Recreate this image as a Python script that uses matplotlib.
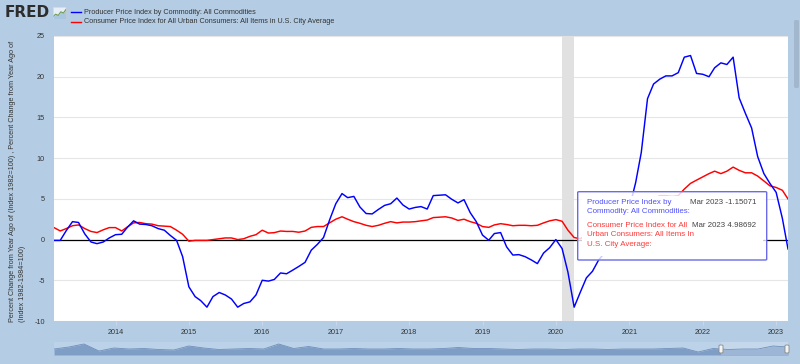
import matplotlib
matplotlib.use("Agg")
import matplotlib.pyplot as plt
import matplotlib.patches as mpatches
from matplotlib.lines import Line2D
import pandas as pd
import numpy as np

# ---------------- data ----------------
start_month = "2013-03-01"
end_month = "2023-03-01"

ppi_values = [
    -0.1, -0.1, 1.1, 2.2, 2.1, 0.7, -0.3, -0.5, -0.3, 0.2,
    0.6, 0.65, 1.5, 2.3, 1.9, 1.85, 1.7, 1.35, 1.15, 0.5, -0.1, -2.1,
    -5.8, -7.0, -7.5, -8.3, -7.0, -6.5, -6.8, -7.3, -8.3, -7.85, -7.65, -6.8,
    -5.0, -5.1, -4.9, -4.1, -4.2, -3.75, -3.3, -2.8, -1.3, -0.6, 0.25, 2.4,
    4.4, 5.65, 5.15, 5.3, 4.0, 3.2, 3.15, 3.7, 4.2, 4.4, 5.1, 4.25,
    3.75, 3.95, 4.05, 3.75, 5.4, 5.45, 5.5, 4.95, 4.5, 4.9, 3.3, 2.2,
    0.55, -0.08, 0.74, 0.86, -0.9, -1.9, -1.85, -2.1, -2.5, -2.95, -1.65, -1.0,
    0.0, -1.1, -4.0, -8.3, -6.5, -4.7, -3.9, -2.5, -1.6, -0.7, 0.3, 1.7,
    3.9, 7.0, 10.7, 17.3, 19.1, 19.7, 20.1, 20.1, 20.5, 22.4, 22.6, 20.4,
    20.3, 20.0, 21.1, 21.7, 21.5, 22.4, 17.4, 15.5, 13.7, 10.2, 8.1, 6.9,
    5.8, 2.6, -1.15071,
]

cpi_values = [
    1.47, 1.06, 1.35, 1.7, 1.8, 1.35, 1.0, 0.86, 1.2, 1.47,
    1.47, 1.06, 1.55, 2.05, 2.1, 1.95, 1.9, 1.7, 1.65, 1.6, 1.15, 0.65,
    -0.2, -0.1, -0.1, -0.1, 0.0, 0.1, 0.2, 0.2, 0.0, 0.1, 0.4, 0.6,
    1.15, 0.8, 0.85, 1.05, 1.0, 1.0, 0.9, 1.05, 1.5, 1.6, 1.6, 2.05,
    2.5, 2.8, 2.5, 2.2, 2.0, 1.75, 1.6, 1.75, 2.0, 2.2, 2.05, 2.15,
    2.15, 2.2, 2.3, 2.4, 2.7, 2.75, 2.8, 2.65, 2.35, 2.5, 2.2, 2.0,
    1.6, 1.5, 1.8, 1.95, 1.85, 1.7, 1.75, 1.75, 1.7, 1.75, 2.05, 2.3,
    2.45, 2.25, 1.15, 0.25, 0.1, 0.6, 1.0, 1.3, 1.4, 1.2, 1.2, 1.4,
    1.4, 1.7, 2.6, 4.2, 5.0, 5.4, 5.4, 5.3, 5.4, 6.2, 6.9, 7.3,
    7.7, 8.1, 8.4, 8.1, 8.4, 8.9, 8.5, 8.2, 8.2, 7.8, 7.2, 6.6,
    6.4, 6.05, 4.98692,
]

series_names = [
    "Producer Price Index by Commodity: All Commodities",
    "Consumer Price Index for All Urban Consumers: All Items in U.S. City Average",
]
year_ticks = list(range(2014, 2024))
y_ticks = [-10, -5, 0, 5, 10, 15, 20, 25]
recession = ("2020-02-01", "2020-04-01")
y_label_lines = [
    "Percent Change from Year Ago of (Index 1982=100) , Percent Change from Year Ago of",
    "(Index 1982-1984=100)",
]
tooltip_ppi_label = "Producer Price Index by\nCommodity: All Commodities:"
tooltip_cpi_label = "Consumer Price Index for All\nUrban Consumers: All Items In\nU.S. City Average:"
tooltip_ppi_value = "Mar 2023 -1.15071"
tooltip_cpi_value = "Mar 2023 4.98692"

# navigator (long-history overview strip) heights, read roughly
nav_values = [6, 8, 11, 4, 7, 6, 6.5, 5.5, 5, 9, 7, 5.5, 6, 6.5, 6, 11, 6.5, 8.5, 6, 6,
              6.5, 6, 6, 6.5, 6, 6, 6.5, 7.5, 6.5, 6.5, 6, 5.5, 6, 6, 5.5, 6, 6, 5.5, 6, 6,
              6, 6.5, 7, 3, 6.5, 5.5, 6, 6, 9, 8]
icon_values = [1, 2, 1.5, 3, 2.5, 4]

# ---------------- figure ----------------
W, H = 800, 364
BG = "#b4cde4"
fig = plt.figure(figsize=(W / 100, H / 100), dpi=100, facecolor=BG)
plt.rcParams["font.family"] = ["Liberation Sans", "DejaVu Sans"]

def fx(px):
    return px / W

def fy(py):
    return 1 - py / H

FS = 5.2
TXT = "#333333"

dates = pd.date_range(start_month, end_month, freq="MS")

ax = fig.add_axes([fx(54), fy(321), fx(788) - fx(54), fy(36) - fy(321)])
ax.set_facecolor("white")
for s in ax.spines.values():
    s.set_visible(False)
ax.set_axisbelow(True)
ax.grid(axis="y", color="#e6e6e6", lw=0.8)
ax.axvspan(pd.Timestamp(recession[0]), pd.Timestamp(recession[1]), color="#e1e1e1", lw=0, zorder=1)
ax.axhline(0, color="black", lw=0.9, zorder=1.5)
ax.plot(dates, ppi_values, color="#0000ff", lw=1.05, zorder=3)
ax.plot(dates, cpi_values, color="#ff0000", lw=1.05, zorder=2.5)
ax.set_xlim(dates[0], dates[-1])
ax.set_ylim(-10, 25)
ax.set_yticks(y_ticks)
ax.set_yticklabels([str(v) for v in y_ticks])
ax.set_xticks([pd.Timestamp(f"{y}-01-01") for y in year_ticks])
ax.set_xticklabels([str(y) for y in year_ticks])
ax.tick_params(axis="y", length=0, pad=6.5, labelsize=FS, labelcolor=TXT)
ax.tick_params(axis="x", length=3, color="#ccd6eb", pad=2.5, labelsize=FS, labelcolor=TXT)

# y label (two lines, left aligned at bottom)
fig.text(fx(13), fy(322), y_label_lines[0], rotation=90, ha="center", va="bottom", fontsize=FS, color=TXT)
fig.text(fx(23), fy(322), y_label_lines[1], rotation=90, ha="center", va="bottom", fontsize=FS, color=TXT)

# ---------------- header / legend ----------------
fig.text(fx(5), fy(12.5), "FRED", fontsize=11, fontweight="heavy", color="#2d2d2d", va="center",
         family=["DejaVu Sans"])
icon_ax = fig.add_axes([fx(53), fy(19), fx(13), fy(0) - fy(12)])
icon_ax.set_facecolor("#e8eef5")
icon_ax.plot(range(len(icon_values)), icon_values, color="#6e9c5a", lw=0.8)
icon_ax.fill_between(range(len(icon_values)), icon_values, 0, color="#a9c6e0", lw=0)
icon_ax.set_xlim(0, len(icon_values) - 1)
icon_ax.set_ylim(0, 5)
icon_ax.set_xticks([]); icon_ax.set_yticks([])
for s in icon_ax.spines.values():
    s.set_color("#cccccc"); s.set_linewidth(0.4)

legend_colors = ["#0000ff", "#ff0000"]
legend_y = [12.3, 21.7]
for name, col, yy in zip(series_names, legend_colors, legend_y):
    fig.add_artist(Line2D([fx(71), fx(81)], [fy(yy), fy(yy)], color=col, lw=1.0, transform=fig.transFigure))
    fig.text(fx(84), fy(yy), name, fontsize=FS, color=TXT, va="center", ha="left")

# ---------------- tooltip ----------------
bx0, bx1, by0, by1 = 577.7, 766.7, 191.7, 260
fig.add_artist(mpatches.FancyBboxPatch((fx(bx0), fy(by1)), fx(bx1) - fx(bx0), fy(by0) - fy(by1),
                                       boxstyle="round,pad=0,rounding_size=0.002",
                                       transform=fig.transFigure, fc=(1, 1, 1, 0.8),
                                       ec="#6b6be8", lw=1.0, zorder=4))
fig.add_artist(mpatches.Rectangle((fx(bx0 + 4), fy(by1 - 4)), fx(bx1 - bx0 - 8), fy(0) - fy(by1 - by0 - 8),
                                  transform=fig.transFigure, fc="white", ec="none", zorder=4.5))
fig.text(fx(587), fy(199), tooltip_ppi_label, fontsize=5.7, color="#5050ff", va="top", ha="left",
         linespacing=1.45, zorder=5)
fig.text(fx(756.5), fy(199), tooltip_ppi_value, fontsize=5.7, color="#444444", va="top", ha="right", zorder=5)
fig.text(fx(587), fy(222), tooltip_cpi_label, fontsize=5.7, color="#ff3a3a", va="top", ha="left",
         linespacing=1.45, zorder=5)
fig.text(fx(756.5), fy(222), tooltip_cpi_value, fontsize=5.7, color="#444444", va="top", ha="right", zorder=5)

# ---------------- navigator ----------------
nav = fig.add_axes([fx(54), fy(355), fx(788) - fx(54), fy(342) - fy(355)])
nav.set_facecolor("#bcd2e8")
xs = np.arange(len(nav_values))
nav.fill_between(xs, nav_values, 0, color="#7f9ec6", lw=0)
nav.plot(xs, nav_values, color="#6f8fbb", lw=0.6)
nav.set_xlim(0, len(nav_values) - 1)
nav.set_ylim(0, 13)
nav.set_xticks([]); nav.set_yticks([])
for s in nav.spines.values():
    s.set_visible(False)
sel0 = (721 - 54) / 734 * (len(nav_values) - 1)
nav.axvspan(sel0, len(nav_values) - 1, color="#d6e4f3", alpha=0.35, lw=0)
for hx in [721, 787]:
    fig.add_artist(mpatches.FancyBboxPatch((fx(hx - 2), fy(353)), fx(4), fy(0) - fy(8),
                                           boxstyle="round,pad=0,rounding_size=0.002",
                                           transform=fig.transFigure, fc="#f4f4f4", ec="#888888", lw=0.6))

# scrollbar thumb at right edge
fig.add_artist(mpatches.FancyBboxPatch((fx(794), fy(88)), fx(5), fy(0) - fy(68),
                                       boxstyle="round,pad=0,rounding_size=0.003",
                                       transform=fig.transFigure, fc="#a3b7cc", ec="none"))

fig.savefig("out.png", dpi=100, facecolor=BG)
